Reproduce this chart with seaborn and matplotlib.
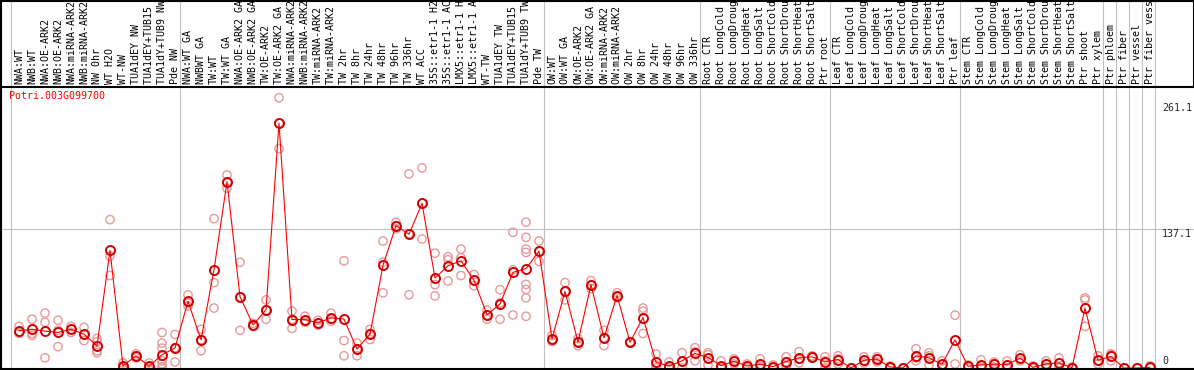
"""
Expression profile of one poplar gene across the tissue / treatment panel.
Writes out.png (1194 x 370 px).
"""

import matplotlib
matplotlib.use("Agg")
import matplotlib.pyplot as plt
import pandas as pd
import seaborn as sns

GENE = "Potri.003G099700"

SAMPLES = [
    # NW block
    "NWA:WT", "NWB:WT", "NWA:OE-ARK2", "NWB:OE-ARK2", "NWA:miRNA-ARK2",
    "NWB:miRNA-ARK2", "NW 0hr", "WT H2O", "WT-NW", "TUA1dEY NW",
    "TUA1dEY+TUB15 NW", "TUA1dY+TUB9 NW", "Pde NW",
    # GA / TW block
    "NWA:WT GA", "NWBWT GA", "TW:WT", "TW:WT GA", "NWA:OE-ARK2 GA",
    "NWB:OE-ARK2 GA", "TW:OE-ARK2", "TW:OE-ARK2 GA", "NWA:miRNA-ARK2 GA",
    "NWB:miRNA-ARK2 GA", "TW:miRNA-ARK2", "TW:miRNA-ARK2 GA", "TW 2hr",
    "TW 8hr", "TW 24hr", "TW 48hr", "TW 96hr", "TW 336hr", "WT ACC",
    "35S::etr1-1 H2O", "35S::etr1-1 ACC", "LMX5::etr1-1 H2O",
    "LMX5::etr1-1 ACC", "WT-TW", "TUA1dEY TW", "TUA1dEY+TUB15 TW",
    "TUA1dY+TUB9 TW", "Pde TW",
    # OW block
    "OW:WT", "OW:WT GA", "OW:OE-ARK2", "OW:OE-ARK2 GA", "OW:miRNA-ARK2",
    "OW:miRNA-ARK2 GA", "OW 2hr", "OW 8hr", "OW 24hr", "OW 48hr", "OW 96hr",
    "OW 336hr",
    # root
    "Root CTR", "Root LongCold", "Root LongDrought", "Root LongHeat",
    "Root LongSalt", "Root ShortCold", "Root ShortDrought", "Root ShortHeat",
    "Root ShortSalt", "Ptr root",
    # leaf
    "Leaf CTR", "Leaf LongCold", "Leaf LongDrought", "Leaf LongHeat",
    "Leaf LongSalt", "Leaf ShortCold", "Leaf ShortDrought", "Leaf ShortHeat",
    "Leaf ShortSalt", "Ptr leaf",
    # stem
    "Stem CTR", "Stem LongCold", "Stem LongDrought", "Stem LongHeat",
    "Stem LongSalt", "Stem ShortCold", "Stem ShortDrought", "Stem ShortHeat",
    "Stem ShortSalt", "Ptr shoot", "Ptr xylem",
    # wood cell types
    "Ptr phloem", "Ptr fiber", "Ptr vessel", "Ptr fiber vessel",
]

# first sample index of every block (last entry = end)
GROUP_STARTS = [0, 13, 41, 53, 63, 73, 84, 85, 86, 87, 88]

# replicate expression values, one list per sample
REPLICATES = [
    [41, 35, 34], [48, 34, 32], [54, 45, 10], [47, 37, 21], [41, 38, 35],
    [40, 33, 27], [29, 26, 17, 15], [146, 110, 91], [5, 1, 0], [14, 12, 10],
    [5, 0, 0], [35, 24.5, 19.5, 7, 4, 1.3, 0], [33, 20, 6],
    [72, 64, 61], [38, 28, 17], [147, 84, 59], [190, 183, 177], [104, 70, 37],
    [44, 42, 41], [67, 57, 48], [266, 241, 216], [56, 48, 39], [51, 47, 45],
    [47, 44, 42], [54, 48, 46], [105.5, 27, 12], [24.5, 19, 12], [38, 34, 28],
    [125, 104, 74], [143.5, 140, 137], [191, 132, 72], [197, 162, 127],
    [113, 82, 71], [109.5, 106.5, 85.6], [117, 108.5, 91], [92, 86, 81],
    [57, 52, 48], [77, 64, 48], [133.6, 96.6, 52.2],
    [143.5, 128.6, 117, 113.7, 82.3, 77.4, 69.1, 50.9], [125, 115, 105],
    [32, 28, 26], [84, 75, 67], [29, 26, 22], [86, 82, 78], [37, 30, 22],
    [74, 71, 69], [26, 25, 25], [59, 56, 34], [14, 3, 0], [6, 0, 0],
    [15, 6, 0], [20, 16, 7],
    [15, 13, 3], [7, 0, 0], [9, 7, 4], [4, 2, 0], [9, 2, 0], [3, 1, 0],
    [11, 6, 2], [16, 9, 5], [12, 11, 10], [11, 7, 0],
    [12, 9, 4], [0, 0, 0], [11, 7, 5], [11, 9, 6], [2, 1, 0], [0, 0, 0],
    [19, 10, 7], [15, 12, 3], [7, 3, 1], [52, 27, 4],
    [3, 2, 0], [8, 1, 0], [6, 4, 1], [7, 3, 0], [13, 9, 7], [2, 0, 0],
    [7, 4, 1], [10, 5, 0], [1, 0, 0], [69, 67, 41], [12, 7, 4],
    [14, 13, 7], [0, 0, 0], [0, 0, 0], [2, 0, 0],
]

Y_LABELS = [261.1, 137.1, 0]

W, H = 1194, 370
GRID = "#c0c0c0"
PINK = "#e89a9a"
MONO = "DejaVu Sans Mono"


def px_x(px):
    # pixel column -> sample coordinate (13 px per sample, first at 19 px)
    return (px - 19) / 13.0


def px_y(py):
    # pixel row -> expression value (0 at 368 px, 1.016 px per unit)
    return (368 - py) / 1.016


def main():
    sns.set_style("white")
    plt.rcParams["font.family"] = [MONO, "DejaVu Sans"]

    df = pd.DataFrame(
        [(i, v) for i, reps in enumerate(REPLICATES) for v in reps],
        columns=["sample", "value"],
    )

    fig = plt.figure(figsize=(W / 100, H / 100), dpi=100)
    ax = fig.add_axes([0, (H - 369) / H, 1, (369 - 87) / H])
    hax = fig.add_axes([0, (H - 87) / H, 1, 87 / H])

    xlim = (px_x(0), px_x(W))
    ax.set_xlim(*xlim)
    ax.set_ylim(px_y(369), px_y(87))
    hax.set_xlim(*xlim)
    hax.set_ylim(0, 87)

    bounds = [s - 0.62 for s in GROUP_STARTS]
    for a in (ax, hax):
        for b in bounds:
            a.axvline(b, color=GRID, lw=0.8, zorder=0)
        a.set_xticks([])
        a.set_yticks([])
        a.set_xlabel("")
        a.set_ylabel("")
        for side in ("top", "bottom", "left", "right"):
            a.spines[side].set_visible(False)

    ax.axhline(Y_LABELS[1], color=GRID, lw=0.8, zorder=0)

    # replicates
    sns.scatterplot(
        data=df, x="sample", y="value", ax=ax, s=36, marker="o",
        facecolor="none", edgecolor=PINK, linewidth=1.0, zorder=2,
        legend=False, clip_on=True,
    )
    # mean profile
    sns.lineplot(
        data=df, x="sample", y="value", ax=ax, estimator="mean",
        errorbar=None, color="red", lw=0.8, marker="o", ms=6.5,
        mfc="none", mec="#d40000", mew=1.4, zorder=3, legend=False,
    )
    ax.set_xlabel("")
    ax.set_ylabel("")

    # sample names in the header strip
    for i, name in enumerate(SAMPLES):
        hax.text(i, 3.5, name, rotation=90, ha="center", va="bottom",
                 fontsize=7.2, family=MONO, color="black", clip_on=True)

    # value labels on the right
    x_lab = px_x(1162)
    ax.text(x_lab, Y_LABELS[0], "261.1", ha="left", va="top",
            fontsize=7.2, family=MONO)
    ax.text(x_lab, Y_LABELS[1], "137.1", ha="left", va="top",
            fontsize=7.2, family=MONO)
    ax.text(x_lab, 1.5, "0", ha="left", va="bottom",
            fontsize=7.2, family=MONO)

    fig.text(9 / W, 1 - 91 / H, GENE, color="red", ha="left", va="top",
             fontsize=7.2, family=MONO)

    # black frame and header separator
    frame = dict(color="black", lw=1.5, transform=fig.transFigure,
                 clip_on=False)
    fig.add_artist(plt.Line2D([0.5 / W, 0.5 / W], [0, 1], **frame))
    fig.add_artist(plt.Line2D([0, 1], [1 - 0.5 / H, 1 - 0.5 / H], **frame))
    fig.add_artist(plt.Line2D([0, 1], [(H - 369) / H, (H - 369) / H], **frame))
    fig.add_artist(plt.Line2D([0, 1], [(H - 86.5) / H, (H - 86.5) / H], **frame))
    fig.add_artist(plt.Line2D([1 - 0.5 / W, 1 - 0.5 / W], [(H - 87) / H, 1],
                              **frame))

    fig.savefig("out.png", dpi=100)


if __name__ == "__main__":
    main()
